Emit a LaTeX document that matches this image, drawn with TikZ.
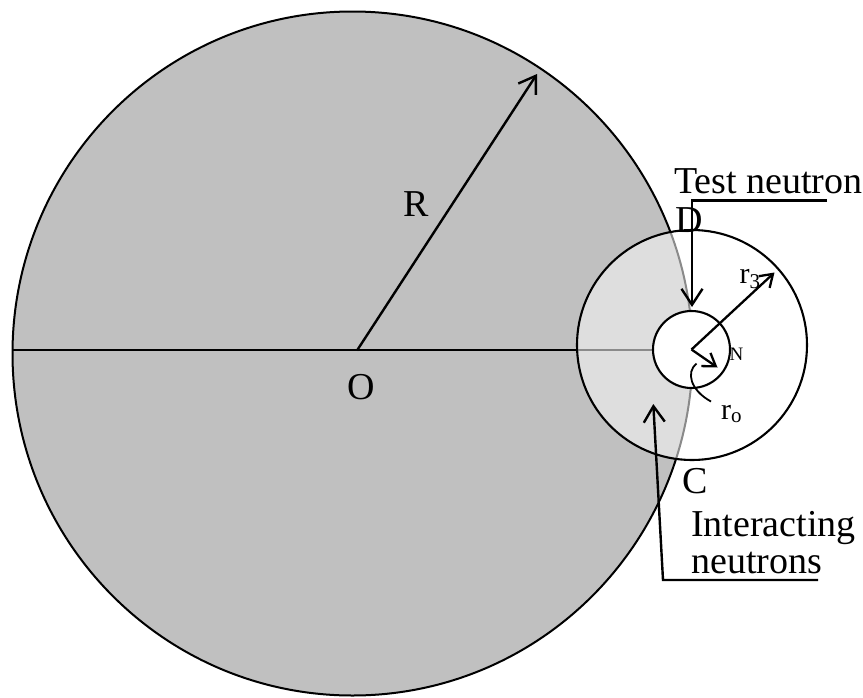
\documentclass[tikz,border=0pt]{standalone}
\usepackage{fontspec}
\setmainfont{Liberation Serif}
\usetikzlibrary{arrows.meta}
\definecolor{biggray}{HTML}{C0C0C0}
\definecolor{litegray}{HTML}{DEDEDE}
\definecolor{arcgray}{HTML}{8A8A8A}
\begin{document}
\begin{tikzpicture}[x=1pt,y=-1pt,
  blk/.style={draw=black,line width=2.1pt},
  arr/.style={line width=2.4pt,-{Straight Barb[length=16pt,width=21pt,line width=2.4pt]}},
  sarr/.style={line width=2.3pt,-{Straight Barb[length=12pt,width=16pt,line width=2.3pt]}},
  big/.style={font=\fontsize{38}{40}\selectfont,inner sep=0pt,anchor=base west},
  mid/.style={font=\fontsize{30}{32}\selectfont,inner sep=0pt,anchor=base west},
  tiny/.style={font=\fontsize{19}{21}\selectfont,inner sep=0pt,anchor=base west}]
\useasboundingbox (0,0) rectangle (863,697);
% geometry
\coordinate (O) at (357,350.5);
\coordinate (BC) at (352.5,353.5);
\coordinate (M) at (692,345);
\coordinate (Nc) at (691.5,349.5);
\coordinate (W) at (12.5,350);
\coordinate (Mleft) at (577.1,350);
\coordinate (Nleft) at (653,350);
\coordinate (Rtip) at (537,74);
% big disc
\fill[biggray] (BC) ellipse [x radius=340, y radius=342];
\draw[line width=2pt] (BC) ellipse [x radius=340, y radius=342];
% medium disc: white, light gray where it overlaps the big disc
\fill[white] (M) circle (115);
\begin{scope}
  \clip (M) circle (115);
  \fill[litegray] (BC) ellipse [x radius=340, y radius=342];
  \draw[arcgray,line width=2pt] (BC) ellipse [x radius=340, y radius=342];
\end{scope}
% diameter line
\draw[line width=2pt] (W) -- (Mleft);
\draw[arcgray,line width=2pt] (Mleft) -- (Nleft);
\draw[blk] (M) circle (115);
% small disc
\fill[white] (Nc) circle (38.5);
\draw[blk] (Nc) circle (38.5);
% R arrow
\draw[arr] (O) -- (Rtip);
% labels
\node[big] (Rl) at (403,216) {R};
\node[big] (Ol) at (347,399) {O};
\node[big] (Dl) at (675,232) {D};
\node[big] (Cl) at (682,493) {C};
\node[big] (tn) at (674,193) {Test neutron};
\node[big] (in1) at (691,536) {Interacting};
\node[big] (in2) at (691,573) {neutrons};
\node[tiny] (Nl) at (729.5,360) {N};
\node[mid] (rol) at (721,419) {r\textsubscript{o}};
% r3 and r_o arrows
\coordinate (r3tip) at (774.5,272.5);
\coordinate (rotip) at (717.5,367.5);
\node[mid] (r3l) at (739.5,283) {r\textsubscript{3}};
\draw[sarr] (Nc) -- (r3tip);
\draw[sarr] (Nc) -- (rotip);
\coordinate (lead1) at (711,401.5);
\coordinate (lead2) at (696.5,363.5);
\draw[line width=1.8pt] (lead1) .. controls (690,390) and (686,372) .. (lead2);
% Test neutron leader
\coordinate (tn1) at (827,200.5);
\coordinate (tn2) at (692,200.5);
\coordinate (tn3) at (692,307);
\draw[arr] (tn1) -- (tn2) -- (tn3);
% Interacting neutrons leader
\coordinate (in1a) at (818,580);
\coordinate (in1b) at (663,580);
\coordinate (in1c) at (653.3,404);
\draw[arr] (in1a) -- (in1b) -- (in1c);
\end{tikzpicture}
\end{document}
